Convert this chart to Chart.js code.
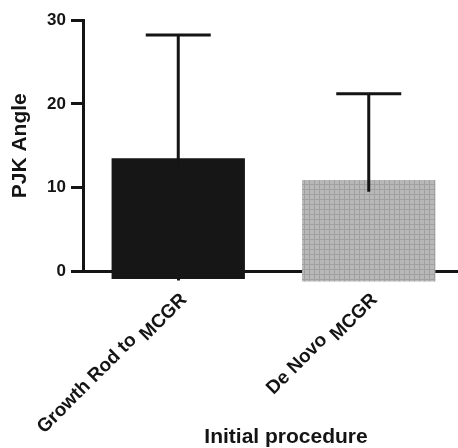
<!DOCTYPE html>
<html><head><meta charset="utf-8">
<script src="https://cdn.jsdelivr.net/npm/chart.js@4"></script>
<style>html,body{margin:0;padding:0;background:#fff;overflow:hidden}#wrap{width:464px;height:448px}</style>
</head><body><div id="wrap"><canvas id="c"></canvas></div>
<script>
const categories = [["Growth Rod to", "MCGR"], ["De Novo", "MCGR"]];
const barMeans = [13.5, 10.9];
const barBases = [-0.9, -1.2];
const errorUpper = [28.2, 21.2];
const errorLower = [12.5, 9.5];
const yTicks = [0, 10, 20, 30];
const yTitle = "PJK Angle";
const xTitle = "Initial procedure";

const FONT = '"Liberation Sans", Arial, sans-serif';
Chart.defaults.font.family = FONT;
const ink = '#141414';

const canvas = document.getElementById('c');
function gridPattern() {
  const p = document.createElement('canvas');
  p.width = 5; p.height = 5;
  const g = p.getContext('2d');
  g.fillStyle = '#b8b8b8'; g.fillRect(0, 0, 5, 5);
  g.fillStyle = '#a0a0a0'; g.fillRect(4, 0, 1, 5); g.fillRect(0, 4, 5, 1);
  return canvas.getContext('2d').createPattern(p, 'repeat');
}

const errorBars = {
  id: 'errorBars',
  afterDatasetsDraw(chart) {
    const ctx = chart.ctx, xs = chart.scales.x, ys = chart.scales.y;
    ctx.save();
    ctx.strokeStyle = ink; ctx.lineWidth = 3; ctx.lineCap = 'butt';
    errorUpper.forEach((u, i) => {
      const x = xs.getPixelForValue(i);
      const yt = ys.getPixelForValue(u), yb = ys.getPixelForValue(errorLower[i]);
      ctx.beginPath();
      ctx.moveTo(x, yb); ctx.lineTo(x, yt);
      ctx.moveTo(x - 32.5, yt); ctx.lineTo(x + 32.5, yt);
      ctx.stroke();
    });
    ctx.restore();
  }
};

const xLabels = {
  id: 'xLabels',
  afterDraw(chart) {
    const ctx = chart.ctx, xs = chart.scales.x, ys = chart.scales.y;
    ctx.save();
    ctx.fillStyle = ink;
    ctx.font = 'bold 19px ' + FONT;
    chart.data.labels.forEach((lab, i) => {
      const x = xs.getPixelForValue(i) + 9.5, y = ys.bottom + 29;
      ctx.save();
      ctx.translate(x, y);
      ctx.rotate(-Math.PI / 4);
      ctx.textAlign = 'right'; ctx.textBaseline = 'alphabetic';
      const l1 = lab[0], l2 = lab[1];
      ctx.fillText(l2, 0, 0);
      const w2 = ctx.measureText(l2).width;
      ctx.fillText(l1, -w2 - 6, -7);
      ctx.restore();
    });
    ctx.font = 'bold 21px ' + FONT;
    ctx.textAlign = 'center'; ctx.textBaseline = 'alphabetic';
    ctx.fillText(xTitle, 286, 443);
    ctx.restore();
  }
};

new Chart(canvas, {
  type: 'bar',
  data: {
    labels: categories,
    datasets: [{
      data: barMeans.map((m, i) => [barBases[i], m]),
      backgroundColor: ['#161616', gridPattern()],
      borderWidth: 0,
      clip: false,
      barPercentage: 0.7,
      categoryPercentage: 1
    }]
  },
  options: {
    responsive: true,
    maintainAspectRatio: false,
    animation: false,
    layout: { padding: { top: 20, left: 0, right: 0, bottom: 0 } },
    plugins: { legend: { display: false }, tooltip: { enabled: false } },
    scales: {
      x: {
        z: 1,
        offset: true,
        grid: { offset: false, drawOnChartArea: false, drawTicks: true, tickLength: 9, lineWidth: 3, color: ink },
        border: { display: true, width: 3, color: ink },
        ticks: { display: false },
        afterFit(s) { s.height = 448 - 271.5; }
      },
      y: {
        min: 0, max: 30,
        afterBuildTicks(s) { s.ticks = yTicks.map(v => ({ value: v })); },
        grid: { drawOnChartArea: false, drawTicks: true, tickLength: 12, lineWidth: 3, color: ink },
        border: { display: true, width: 3, color: ink },
        ticks: { color: ink, padding: 5, font: { size: 17, weight: 'bold' } },
        title: { display: true, text: yTitle, color: ink, font: { size: 21, weight: 'bold' }, padding: { top: 8, bottom: 0 } },
        afterFit(s) { s.width = 83; }
      }
    }
  },
  plugins: [errorBars, xLabels]
});
</script>
</body></html>
